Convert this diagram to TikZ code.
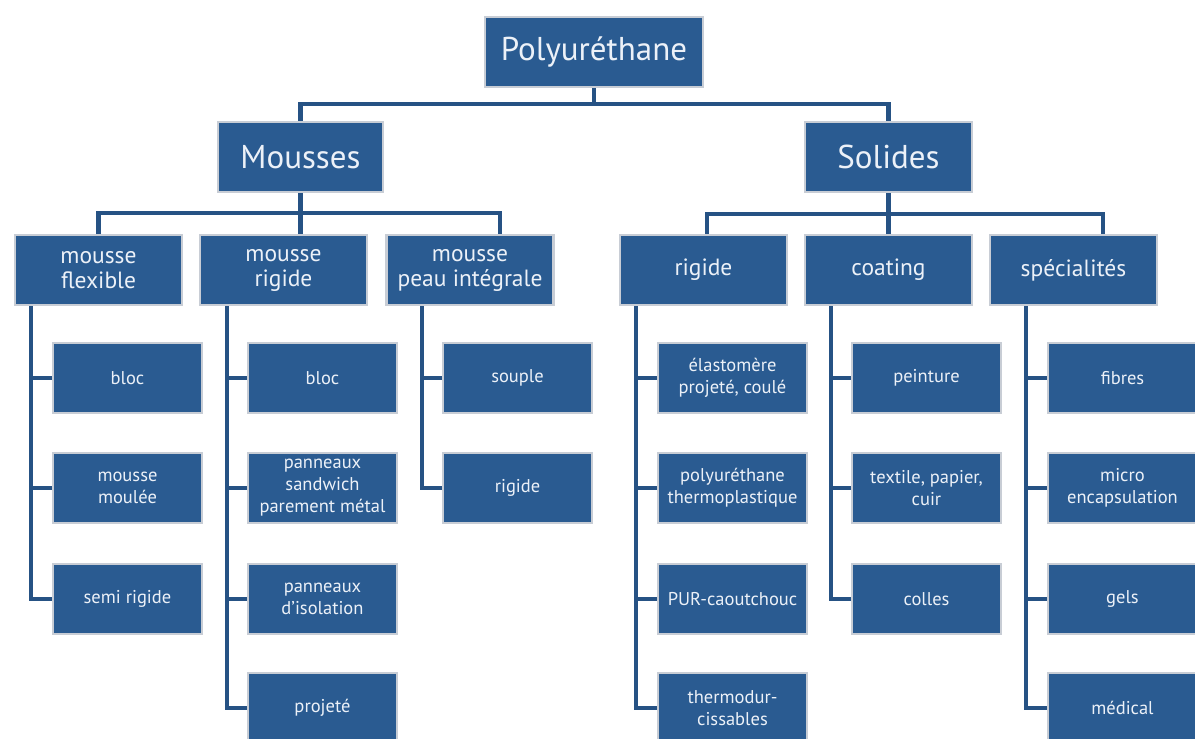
\documentclass[tikz,border=0pt]{standalone}
\usepackage{fontspec}
\setmainfont{PT Sans}
\usetikzlibrary{backgrounds}
\definecolor{boxblue}{RGB}{42,91,145}
\definecolor{lineblue}{RGB}{38,82,132}
\definecolor{edgegray}{RGB}{200,205,213}
\definecolor{txt}{RGB}{236,241,248}
\tikzset{
  box/.style={rectangle, fill=boxblue, draw=edgegray, line width=2.5pt, text=txt, align=center, inner sep=0pt},
  headbox/.style={box, minimum height=70pt, font=\fontsize{33}{36}\selectfont},
  secbox/.style={box, minimum width=167pt, minimum height=70pt, font=\fontsize{23.5}{25}\selectfont},
  leafbox/.style={box, minimum width=149pt, minimum height=70pt, font=\fontsize{18.5}{22}\selectfont},
  link/.style={draw=lineblue, line width=4.5pt},
}
\begin{document}
\begin{tikzpicture}[x=1pt,y=-1pt]
\useasboundingbox (0,0) rectangle (1195,739);
% level 0 and 1
\node[headbox, minimum width=218pt] (poly) at (594,52) {Polyuréthane};
\node[headbox, minimum width=165pt] (mou) at (300.5,157) {Mousses};
\node[headbox, minimum width=167pt] (sol) at (888.5,157) {Solides};
% level 2
\node[secbox] (mf) at (98.5,270) {mousse\\flexible};
\node[secbox] (mr) at (283.5,270) {mousse\\rigide};
\node[secbox] (mp) at (470,270) {mousse\\peau intégrale};
\node[secbox] (sr) at (703.5,270) {rigide};
\node[secbox] (sc) at (888.5,270) {coating};
\node[secbox] (ss) at (1073.5,270) {spécialités};
% leaves: mousse flexible
\node[leafbox] (mf1) at (127.5,378) {bloc};
\node[leafbox] (mf2) at (127.5,488) {mousse\\moulée};
\node[leafbox] (mf3) at (127.5,599) {semi rigide};
% mousse rigide
\node[leafbox] (mr1) at (322.5,378) {bloc};
\node[leafbox] (mr2) at (322.5,488) {panneaux\\sandwich\\parement métal};
\node[leafbox] (mr3) at (322.5,599) {panneaux\\d’isolation};
\node[leafbox] (mr4) at (322.5,708) {projeté};
% peau integrale
\node[leafbox] (mp1) at (517.5,378) {souple};
\node[leafbox] (mp2) at (517.5,488) {rigide};
% solides rigide
\node[leafbox] (sr1) at (732.5,378) {élastomère\\projeté, coulé};
\node[leafbox] (sr2) at (732.5,488) {polyuréthane\\thermoplastique};
\node[leafbox] (sr3) at (732.5,599) {PUR-caoutchouc};
\node[leafbox] (sr4) at (732.5,708) {thermodur-\\cissables};
% coating
\node[leafbox] (sc1) at (926.5,378) {peinture};
\node[leafbox] (sc2) at (926.5,488) {textile, papier,\\cuir};
\node[leafbox] (sc3) at (926.5,599) {colles};
% specialites
\node[leafbox] (ss1) at (1122.5,378) {fibres};
\node[leafbox] (ss2) at (1122.5,488) {micro\\encapsulation};
\node[leafbox] (ss3) at (1122.5,599) {gels};
\node[leafbox] (ss4) at (1122.5,708) {médical};

\begin{scope}[on background layer]
\fill[white] (0,0) rectangle (1195,739);
\coordinate (pbar) at (594,104);
\draw[link] (poly.south) -- (pbar);
\draw[link] (mou.north) |- (pbar) -| (sol.north);
\coordinate (mbar) at (300.5,213);
\draw[link] (mou.south) -- (mou.south |- mr.north);
\draw[link] (mf.north) |- (mbar) -| ([xshift=30pt]mp.north);
\coordinate (sbar) at (888.5,214);
\draw[link] (sol.south) -- (sc.north);
\draw[link] ([xshift=3.5pt]sr.north) |- (sbar) -| ([xshift=29.5pt]ss.north);
% trunks
\coordinate (t1) at ([xshift=-21pt]mf1.west);
\coordinate (t2) at ([xshift=-20pt]mr1.west);
\coordinate (t3) at ([xshift=-20pt]mp1.west);
\coordinate (t4) at ([xshift=-21pt]sr1.west);
\coordinate (t5) at ([xshift=-20pt]sc1.west);
\coordinate (t6) at ([xshift=-21pt]ss1.west);
\draw[link] (mf.south -| t1) |- (mf3.west);
\draw[link] (mr.south -| t2) |- (mr4.west);
\draw[link] (mp.south -| t3) |- (mp2.west);
\draw[link] (sr.south -| t4) |- (sr4.west);
\draw[link] (sc.south -| t5) |- (sc3.west);
\draw[link] (ss.south -| t6) |- (ss4.west);
% stubs
\foreach \n/\t in {mf1/t1,mf2/t1,mr1/t2,mr2/t2,mr3/t2,mp1/t3,sr1/t4,sr2/t4,sr3/t4,sc1/t5,sc2/t5,ss1/t6,ss2/t6,ss3/t6}
  \draw[link] (\n.west -| \t) -- (\n.west);
\end{scope}
\end{tikzpicture}
\end{document}
